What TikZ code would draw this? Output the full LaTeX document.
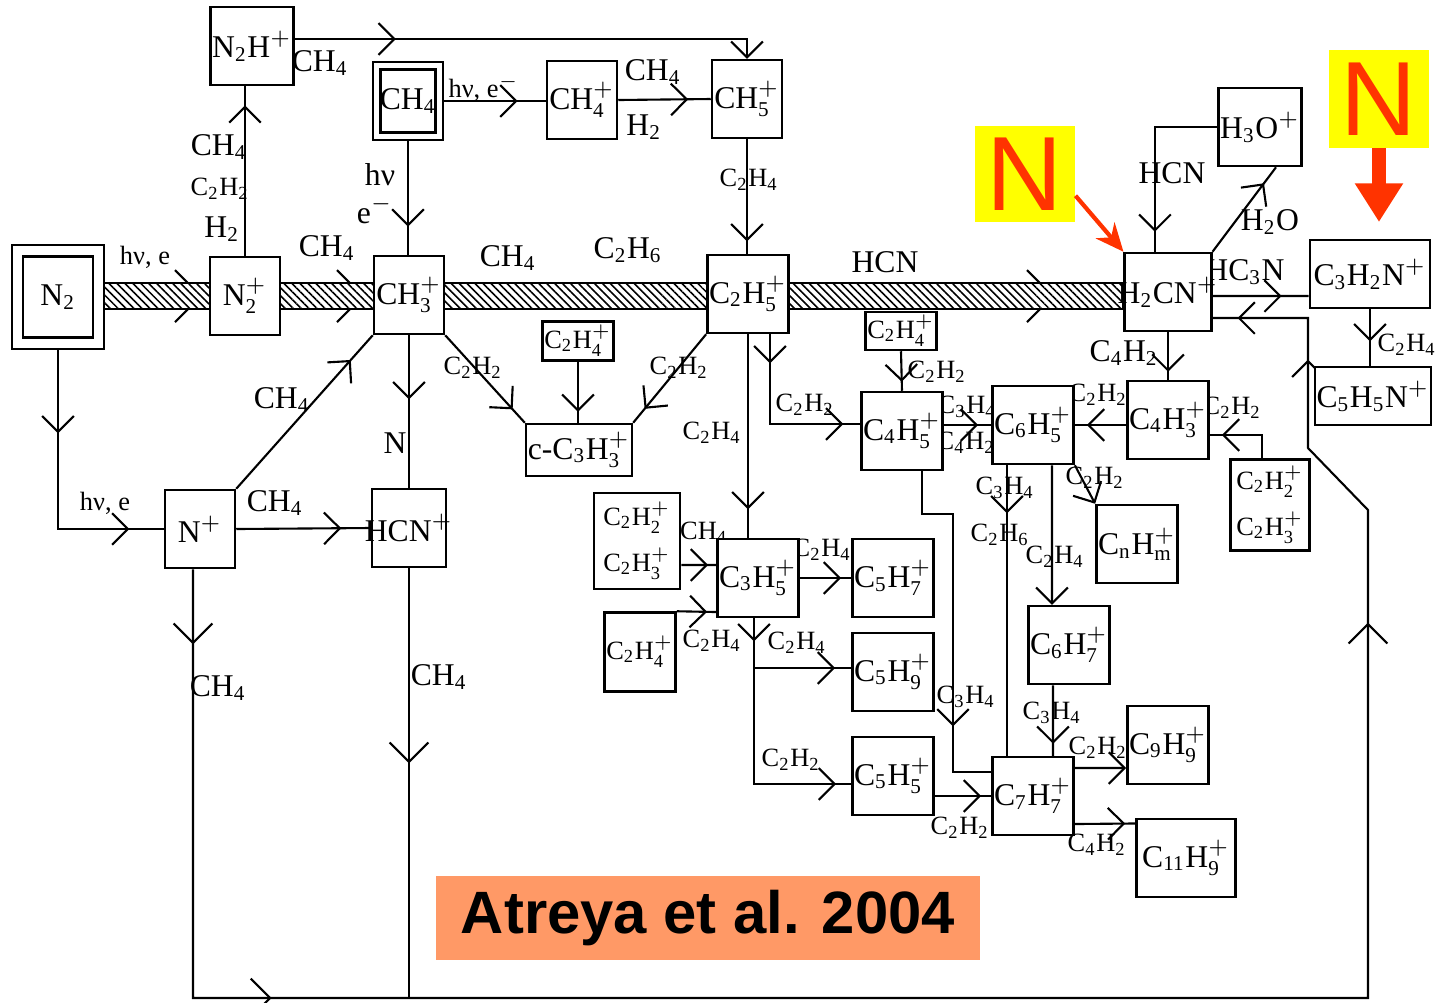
\documentclass[tikz,border=0pt]{standalone}
\usepackage{amsmath}
\usepackage{fontspec}
\setmainfont{Liberation Serif}
\newfontfamily\tagfont{Liberation Sans}
\usetikzlibrary{arrows.meta, positioning, calc, backgrounds, decorations.markings, patterns.meta}
\definecolor{tagorange}{HTML}{FF9966}
\definecolor{tagyellow}{HTML}{FFFF00}
\definecolor{tagred}{HTML}{FF3300}
\newcommand{\chsub}[1]{$_{\text{#1}}$}
\newcommand{\chion}[1]{$_{\text{#1}}^{+}$}

\begin{document}
\begin{tikzpicture}[
    x=0.01cm, y=-0.01cm,
    chev/.tip={Straight Barb[length=4.5pt,width=9pt]},
    bchev/.tip={Straight Barb[length=5.5pt,width=11pt]},
    box/.style={rectangle, draw, fill=white, line width=0.7pt, minimum width=0.7cm, minimum height=0.78cm, inner sep=0.5pt, align=center, font=\fontsize{9}{10}\selectfont},
    sbox/.style={box, font=\fontsize{7.5}{8.5}\selectfont},
    dbox/.style={box, double, double distance=#1},
    conn/.style={line width=0.6pt},
    arr/.style={postaction={decorate, decoration={markings, mark=at position #1 with {\arrow{chev}}}}},
    barr/.style={postaction={decorate, decoration={markings, mark=at position #1 with {\arrow{bchev}}}}},
    lbl/.style={inner sep=0pt, font=\fontsize{9}{10}\selectfont},
    slbl/.style={inner sep=0pt, font=\fontsize{7.5}{8}\selectfont},
    band/.style={draw, line width=0.6pt, pattern={Lines[angle=-45,distance=1.6pt,line width=0.45pt]}},
    tagbox/.style={fill=tagyellow, minimum width=0.91cm, minimum height=0.96cm, text=tagred, font=\tagfont\fontsize{30}{30}\selectfont},
    redarr/.style={draw=tagred, line width=1.2pt, -{Stealth[length=8pt,width=7pt]}}
]
\useasboundingbox (0,0) rectangle (1435,1002);

\node[dbox=0.09cm, minimum width=0.81cm, minimum height=0.92cm] (n2) at (58,297) {N\chsub{2}};
\node[box] (n2p) at (245,296) {N\chion{2}};
\node[box] (n2hp) at (252,46) {N\chsub{2}H$^{+}$};
\node[dbox=0.05cm, minimum width=0.625cm, minimum height=0.705cm, inner xsep=-1pt] (ch4) at (408,101) {CH\chsub{4}};
\node[box] (ch4p) at (582,100) {CH\chion{4}};
\node[box] (ch5p) at (747,99) {CH\chion{5}};
\node[box] (ch3p) at (409,295) {CH\chion{3}};
\node[box] (c2h5p) at (748,294) {C\chsub{2}H\chion{5}};
\node[box, inner xsep=-2pt] (h2cnp) at (1168,292) {H\chsub{2}CN$^{+}$};
\node[box, minimum width=0.72cm] (h3op) at (1260,127) {H\chsub{3}O$^{+}$};
\node[box, minimum width=1.2cm, minimum height=0.68cm] (c3h2np) at (1370,274) {C\chsub{3}H\chsub{2}N$^{+}$};
\node[box, minimum width=1.03cm, minimum height=0.58cm] (c5h5np) at (1373,396) {C\chsub{5}H\chsub{5}N$^{+}$};
\node[box] (np) at (200,529) {N$^{+}$};
\node[box, inner xsep=-2pt] (hcnp) at (409,528) {HCN$^{+}$};
\node[sbox, minimum height=0.39cm] (c2h4pa) at (578,341) {C\chsub{2}H\chion{4}};
\node[box, minimum width=1.05cm, minimum height=0.52cm] (cc3h3p) at (579,450) {c-C\chsub{3}H\chion{3}};
\node[sbox, minimum width=0.69cm, minimum height=0.38cm] (c2h4pb) at (901,331) {C\chsub{2}H\chion{4}};
\node[box] (c4h5p) at (902,431) {C\chsub{4}H\chion{5}};
\node[box] (c6h5p) at (1033,425) {C\chsub{6}H\chion{5}};
\node[box] (c4h3p) at (1168,420) {C\chsub{4}H\chion{3}};
\node[sbox, minimum width=0.79cm, minimum height=0.91cm] (c2hxpr) at (1270,505) {C\chsub{2}H\chion{2}\\[3pt]C\chsub{2}H\chion{3}};
\node[box, minimum width=0.72cm] (cnhmp) at (1137,544) {C\chsub{n}H\chion{m}};
\node[sbox, minimum width=0.86cm, minimum height=0.96cm] (c2hxpl) at (637,541) {C\chsub{2}H\chion{2}\\[3pt]C\chsub{2}H\chion{3}};
\node[box] (c3h5p) at (758,578) {C\chsub{3}H\chion{5}};
\node[box] (c5h7p) at (893,578) {C\chsub{5}H\chion{7}};
\node[sbox, minimum width=0.71cm, minimum height=0.79cm] (c2h4pc) at (640,652) {C\chsub{2}H\chion{4}};
\node[box] (c5h9p) at (893,672) {C\chsub{5}H\chion{9}};
\node[box] (c5h5p) at (893,776) {C\chsub{5}H\chion{5}};
\node[box] (c6h7p) at (1069,645) {C\chsub{6}H\chion{7}};
\node[box] (c7h7p) at (1033,796) {C\chsub{7}H\chion{7}};
\node[box] (c9h9p) at (1168,745) {C\chsub{9}H\chion{9}};
\node[box, minimum width=0.99cm] (c11h9p) at (1186,858) {C\chsub{11}H\chion{9}};

\node[tagbox] (tagl) at (1025,174) {N};
\node[tagbox, minimum height=0.97cm] (tagr) at (1379,99) {N};
\node[fill=tagorange, minimum width=5.43cm, minimum height=0.83cm, font=\tagfont\bfseries\fontsize{17}{17}\selectfont] (cite) at (708,918) {Atreya et al. 2004};
\coordinate (tagrend) at (1379,222);
\coordinate (loopbr) at (1368,998);
\coordinate (loopk1) at (1368,510);
\coordinate (loopk2) at (1308,448);

\draw[redarr] ([yshift=0.27cm]tagl.south east) -- (h2cnp.north west);
\draw[draw=tagred, line width=4pt, -{Triangle[length=11pt,width=13pt]}] (tagr.south) -- (tagrend);

\begin{scope}[on background layer]
\draw[band] (n2.east |- 0,283) rectangle (h2cnp.west |- 0,309);
\foreach \bx in {188,350,1040} {
  \draw[conn] (\bx-13,270) -- (\bx,283) (\bx-13,322) -- (\bx,309);
}
\path (n2) -- (n2p) node[slbl] at (145,257) {hν, e};
\path (n2p) -- (ch3p) node[lbl] at (327,248) {CH\chsub{4}};
\path (ch3p) -- (c2h5p) node[lbl] at (508,258) {CH\chsub{4}} node[lbl] at (628,250) {C\chsub{2}H\chsub{6}};
\path (c2h5p) -- (h2cnp) node[lbl] at (885,262) {HCN};

\draw[conn, arr=1.01cm, -{chev}] ([yshift=0.07cm]n2hp.east) -| (ch5p.north) node[lbl] at (320,63) {CH\chsub{4}};
\draw[conn, arr=-0.19cm] (n2p.north) -- (n2p.north |- n2hp.south)
  node[lbl] at (219,147) {CH\chsub{4}} node[slbl] at (220,189) {C\chsub{2}H\chsub{2}} node[lbl] at (222,229) {H\chsub{2}};
\draw[conn, arr=0.77cm] (ch4.east) -- (ch4.east -| ch4p.west) node[slbl] at (484,88) {hν, e$^{-}$};
\draw[conn, arr=0.70cm] (ch4p.east) -- (ch5p.west) node[lbl] at (653,72) {CH\chsub{4}} node[lbl] at (644,127) {H\chsub{2}};
\draw[conn, arr=0.89cm] (ch4.south) -- (ch4.south |- ch3p.north) node[lbl] at (380,175) {hν} node[lbl] at (375,210) {e$^{-}$};
\draw[conn, arr=1.02cm] (ch5p.south) -- (ch5p.south |- c2h5p.north) node[slbl] at (749,180) {C\chsub{2}H\chsub{4}};
\draw[conn, arr=0.89cm, arr=2.56cm] (n2.south) |- (np.west) node[slbl] at (105,503) {hν, e};
\draw[conn, arr=1.05cm] (np.east) -- (hcnp.west) node[lbl] at (275,503) {CH\chsub{4}};
\draw[conn, arr=-0.33cm] (np.north east) -- (ch3p.south west) node[lbl] at (282,400) {CH\chsub{4}};
\draw[conn, arr=0.64cm] (ch3p.south) -- (hcnp.north) node[lbl] at (395,443) {N};
\draw[conn, arr=-0.18cm] (ch3p.south east) -- (cc3h3p.north west) node[slbl] at (473,368) {C\chsub{2}H\chsub{2}};
\draw[conn, arr=-0.11cm] (c2h4pa.south) -- (c2h4pa.south |- cc3h3p.north);
\draw[conn, arr=-0.18cm] (c2h5p.south west) -- (cc3h3p.north east) node[slbl] at (679,368) {C\chsub{2}H\chsub{2}};
\draw[conn, arr=1.75cm] (c2h5p.south) -- (c2h5p.south |- c3h5p.north) node[slbl] at (712,433) {C\chsub{2}H\chsub{4}};
\draw[conn, arr=0.29cm, arr=1.63cm] ([xshift=0.22cm]c2h5p.south) |- ([yshift=0.07cm]c4h5p.west) node[slbl] at (805,405) {C\chsub{2}H\chsub{2}};
\draw[conn, arr=-0.09cm] (c2h4pb.south) -- (c4h5p.north) node[slbl] at (937,372) {C\chsub{2}H\chsub{2}};
\draw[conn, arr=-0.13cm] (c4h5p.east |- c6h5p) -- (c6h5p.west) node[slbl] at (967,407) {C\chsub{3}H\chsub{4}} node[slbl] at (966,443) {C\chsub{4}H\chsub{2}};
\draw[conn, arr=-0.12cm] (c4h3p.west |- c6h5p) -- (c6h5p.east) node[slbl] at (1098,395) {C\chsub{2}H\chsub{2}};
\draw[conn, arr=-0.08cm] (h2cnp.south) -- (c4h3p.north) node[lbl] at (1124,353) {C\chsub{4}H\chsub{2}};
\draw[conn, arr=-0.12cm] ([xshift=-0.08cm]c2hxpr.north) |- ([yshift=-0.15cm]c4h3p.east) node[slbl] at (1232,408) {C\chsub{2}H\chsub{2}};
\draw[conn, -{chev}] (c6h5p.south east) -- (cnhmp.north west) node[slbl] at (1095,478) {C\chsub{2}H\chsub{2}};
\draw[conn, arr=0.48cm] ([xshift=-0.26cm]c6h5p.south) -- ([xshift=-0.26cm]c7h7p.north)
  node[slbl] at (1005,488) {C\chsub{3}H\chsub{4}} node[slbl] at (1000,535) {C\chsub{2}H\chsub{6}};
\draw[conn, -{chev}] ([xshift=0.19cm]c6h5p.south) -- ([xshift=-0.17cm]c6h7p.north) node[slbl] at (1055,557) {C\chsub{2}H\chsub{4}};
\draw[conn, arr=2.86cm] ([xshift=0.2cm]c4h5p.south) -- ++(0,43) -- ++(31,0) |- ([yshift=0.24cm]c7h7p.west) node[slbl] at (966,697) {C\chsub{3}H\chsub{4}};
\draw[conn, arr=-0.12cm] ([xshift=-0.16cm]c6h7p.south) -- ([xshift=0.2cm]c7h7p.north) node[slbl] at (1052,713) {C\chsub{3}H\chsub{4}};
\draw[conn, arr=-0.1cm] (c5h5p.east |- c7h7p) -- (c7h7p.west) node[slbl] at (960,828) {C\chsub{2}H\chsub{2}};
\draw[conn, -{chev}] ([yshift=0.28cm]c7h7p.east) -- ([yshift=-0.23cm]c9h9p.west) node[slbl] at (1098,748) {C\chsub{2}H\chsub{2}};
\draw[conn, arr=-0.1cm] ([yshift=-0.28cm]c7h7p.east) -- ([yshift=0.345cm]c11h9p.west) node[slbl] at (1097,845) {C\chsub{4}H\chsub{2}};
\draw[conn, arr=-0.08cm] ([yshift=-0.24cm]c2hxpl.east) -- ([yshift=0.13cm]c3h5p.west) node[slbl] at (704,533) {CH\chsub{4}};
\draw[conn, arr=-0.09cm] (c2h4pc.north east) -- ([yshift=-0.34cm]c3h5p.west) node[slbl] at (712,641) {C\chsub{2}H\chsub{4}};
\draw[conn, arr=-0.1cm] (c3h5p.east) -- (c5h7p.west) node[slbl] at (822,550) {C\chsub{2}H\chsub{4}};
\draw[conn, arr=0.23cm, arr=-0.16cm] ([xshift=-0.04cm]c3h5p.south) |- ([yshift=0.04cm]c5h9p.west) node[slbl] at (797,643) {C\chsub{2}H\chsub{4}};
\draw[conn, arr=-0.15cm] ([xshift=-0.04cm]c3h5p.south) |- ([yshift=-0.08cm]c5h5p.west) node[slbl] at (791,760) {C\chsub{2}H\chsub{2}};
\draw[conn, barr=0.75cm, barr=5.07cm, barr=19.78cm, arr=-1.37cm, arr=-0.25cm] ([xshift=-0.07cm]np.south) |- (loopbr) -- (loopk1) -- (loopk2) |- ([yshift=-0.26cm]h2cnp.east)
  node[lbl] at (218,688) {CH\chsub{4}};
\draw[conn, barr=1.95cm] (hcnp.south) -- (hcnp.south |- loopbr) node[lbl] at (439,677) {CH\chsub{4}};
\draw[conn, arr=-0.27cm] ([yshift=-0.04cm]h2cnp.east) -- ([yshift=-0.22cm]c3h2np.west) node[lbl] at (1245,272) {HC\chsub{3}N};
\draw[conn, arr=0.32cm] (c3h2np.south) -- (c3h2np.south |- c5h5np.north) node[slbl] at (1407,345) {C\chsub{2}H\chsub{4}};
\draw[conn, arr=-0.2cm] (h3op.west) -| ([xshift=-0.13cm]h2cnp.north) node[lbl] at (1172,173) {HCN};
\draw[conn, arr=-0.2cm] (h2cnp.north east) -- ([xshift=0.16cm]h3op.south) node[lbl] at (1270,222) {H\chsub{2}O};
\end{scope}
\end{tikzpicture}
\end{document}
